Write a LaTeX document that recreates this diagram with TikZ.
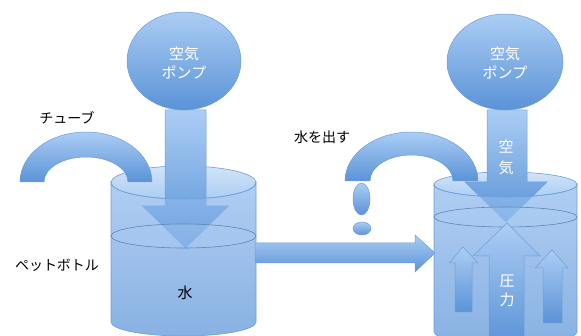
\documentclass[tikz,border=0pt]{standalone}
\usepackage{fontspec}
\newfontfamily\jp{Noto Sans CJK JP}
\usepackage{xcolor}
\usepackage{tikz}

\definecolor{bluetop}{HTML}{ABCDF4}
\definecolor{bluebot}{HTML}{5A93D7}
\definecolor{bluemid}{HTML}{92BBEE}
\definecolor{blueline}{HTML}{6E9ED8}
\definecolor{rimtop}{HTML}{D2E4F8}

\begin{document}
\begin{tikzpicture}[
    x=1pt, y=-1pt,
    blu/.style={draw=blueline, line width=0.5pt, top color=bluetop, bottom color=bluebot},
    glass/.style={draw=blueline, line width=0.6pt, top color=bluemid, bottom color=bluebot, fill opacity=0.72},
    rim/.style={draw=blueline, line width=0.6pt, top color=rimtop, bottom color=bluetop},
    surf/.style={draw=blueline!85!black, line width=0.6pt, fill=bluetop, fill opacity=0.35},
    lbl/.style={font=\jp\fontsize{14}{16}\selectfont, text=black},
    wlbl/.style={font=\jp\fontsize{15}{19}\selectfont, text=white, align=center}
]
\useasboundingbox (0,0) rectangle (581,336);

% left bottle: rim, pump arrow, pump
\draw[rim] (183.5,182.5) ellipse[x radius=72.5, y radius=16.5];
\draw[blu] (165,110) -- (206,110) -- (206,206) -- (228.5,206) -- (185.5,248)
    -- (142.5,206) -- (165,206) -- cycle;
\draw[blu] (184,61) ellipse[x radius=57, y radius=49];
\node[wlbl] (pumpL) at (184,63) {空気\\ポンプ};
\draw[glass] (111,182.5) -- (111,322) arc[start angle=180, end angle=0, x radius=72.5, y radius=14]
    -- (256,182.5) arc[start angle=0, end angle=180, x radius=72.5, y radius=16.5] -- cycle;
\draw[surf] (183.5,236) ellipse[x radius=72.5, y radius=12];
% tube
\draw[blu] (20,182) arc[start angle=180, end angle=360, x radius=66, y radius=50]
    -- (128,182) arc[start angle=360, end angle=180, x radius=42, y radius=25] -- cycle;

\node[lbl] (tube) at (67,118) {チューブ};
\node[lbl] (bottle) at (57,265) {ペットボトル};
\node[lbl, font=\jp\fontsize{15}{16}\selectfont] (water) at (185,293) {水};

% flow to the second bottle
\draw[blu] (255,243) -- (415,243) -- (415,235) -- (435,253) -- (415,272)
    -- (415,263) -- (255,263) -- cycle;

% right bottle
\draw[rim] (505.5,184.5) ellipse[x radius=71.5, y radius=12.5];
\draw[blu] (487,110) -- (527,110) -- (527,182) -- (547,182) -- (506,222)
    -- (465,182) -- (487,182) -- cycle;
\draw[blu] (505,62) ellipse[x radius=58, y radius=48];
\node[wlbl] (pumpR) at (505,63) {空気\\ポンプ};
\node[wlbl, font=\jp\fontsize{15}{21}\selectfont] (air) at (506,157) {空\\気};
\draw[glass] (434,184.5) -- (434,332) arc[start angle=180, end angle=0, x radius=71.5, y radius=12]
    -- (577,184.5) arc[start angle=0, end angle=180, x radius=71.5, y radius=12.5] -- cycle;
\draw[surf] (505.5,217) ellipse[x radius=71.5, y radius=10];
% pressure arrows
\draw[blu] (489,345) -- (489,256) -- (473,256) -- (507,223) -- (540,256)
    -- (524,256) -- (524,345) -- cycle;
\draw[blu] (455,312) -- (455,263) -- (449,263) -- (463,247) -- (478,263)
    -- (472,263) -- (472,312) -- cycle;
\draw[blu] (543,323) -- (543,268) -- (535,268) -- (552,250) -- (568,268)
    -- (562,268) -- (562,323) -- cycle;
\node[wlbl] (press) at (507,291) {圧\\力};
% outlet tube and drop
\draw[blu] (345,181) arc[start angle=180, end angle=360, x radius=66.5, y radius=49]
    -- (453,181) arc[start angle=360, end angle=180, x radius=41.5, y radius=26] -- cycle;
\draw[blu] (361.5,199) ellipse[x radius=8.5, y radius=16];
\draw[blu] (362,228.5) ellipse[x radius=9, y radius=6.5];

\node[lbl] (out) at (322,137) {水を出す};

\end{tikzpicture}
\end{document}
